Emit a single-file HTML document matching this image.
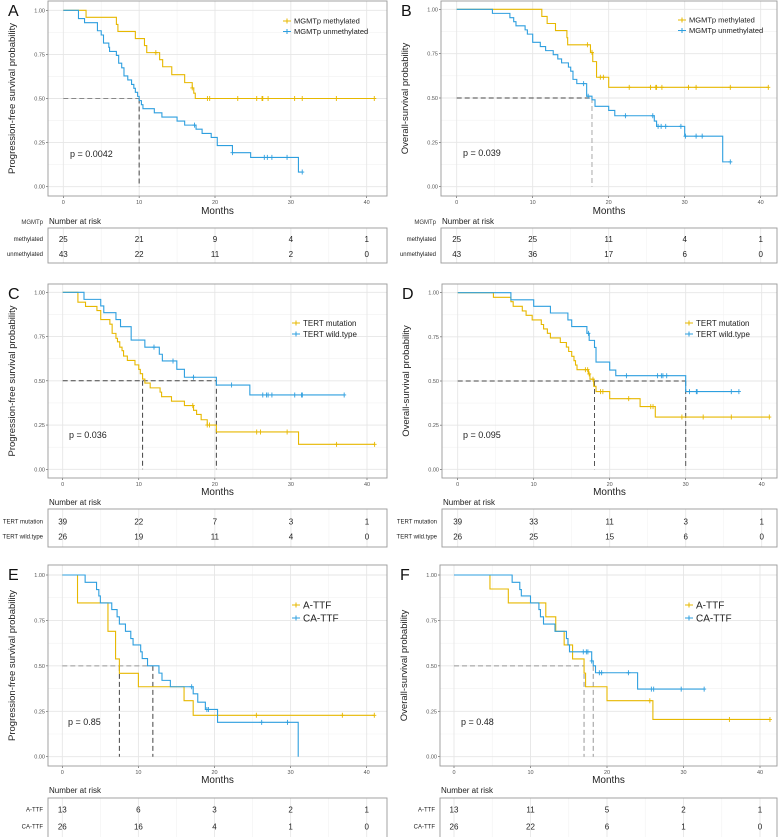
<!DOCTYPE html>
<html><head><meta charset="utf-8">
<style>
html,body{margin:0;padding:0;background:#fff;}
svg{display:block;font-family:"Liberation Sans",Arial,sans-serif;}
</style></head>
<body>
<svg id="fig" width="778" height="837" viewBox="0 0 778 837" xmlns="http://www.w3.org/2000/svg"></svg>
<script>
// ---------- DATA ----------
// Panel A: PFS by MGMTp
const A_met_t=[3,7,7.2,9.5,10.7,11,12.7,13.1,14.3,16,17,17.2,17.4];
const A_met_s=[0.96,0.92,0.88,0.84,0.80,0.76,0.72,0.68,0.635,0.59,0.56,0.53,0.50];
const A_met_c=[12.2,17,19,19.3,23,25.5,26.2,26.3,27,30.5,31.5,36,41];
const A_unm_t=[2,2.8,4.5,5,5.3,6,6.1,7,7.3,7.7,8,8.5,9,9.3,9.5,9.8,10,10.3,10.5,12,13,15,16,17.5,18.3,19.5,20.3,22.3,24.7,31];
const A_unm_s=[0.953,0.93,0.884,0.86,0.814,0.79,0.767,0.744,0.70,0.674,0.628,0.605,0.58,0.558,0.535,0.512,0.488,0.465,0.442,0.419,0.395,0.372,0.349,0.326,0.302,0.279,0.233,0.193,0.166,0.083];
const A_unm_c=[17.3,22.3,26.5,26.9,27.5,29.5,31.5];
const A_risk1=[25,21,9,4,1];
const A_risk2=[43,22,11,2,0];
// Panel B: OS by MGMTp
const B_met_t=[11.2,11.9,13,14.5,14.6,17.6,17.9,18.4,20];
const B_met_s=[0.96,0.92,0.88,0.84,0.80,0.757,0.705,0.617,0.56];
const B_met_c=[17.2,17.8,18.9,19.3,22.7,25.5,26.2,26.3,27,30.5,31.5,36,41];
const B_unm_t=[4.7,7,7.5,7.8,9,9.3,10,11,11.7,12.7,13.3,13.8,14.7,15,15.3,15.8,17.1,17.8,18.2,20,20.8,26,26.3,30,35];
const B_unm_s=[0.977,0.953,0.93,0.907,0.884,0.86,0.814,0.79,0.767,0.744,0.72,0.698,0.674,0.651,0.605,0.581,0.51,0.49,0.453,0.43,0.40,0.37,0.34,0.285,0.14];
const B_unm_c=[16.7,17.3,22.2,25.8,26.5,26.9,27.5,29.5,30.1,31.5,32.3,36];
const B_risk1=[25,25,11,4,1];
const B_risk2=[43,36,17,6,0];
// Panel C: PFS by TERT
const C_mut_t=[2,3,4.5,5,6.2,6.5,7,7.2,7.5,7.8,8,8.5,9.5,10,10.2,10.5,10.8,11.5,12.8,13,14.3,16,17.2,17.6,18.2,19,20.2,31];
const C_mut_s=[0.944,0.92,0.897,0.846,0.82,0.768,0.74,0.72,0.69,0.67,0.64,0.615,0.59,0.564,0.54,0.51,0.487,0.46,0.436,0.41,0.385,0.36,0.333,0.31,0.28,0.25,0.211,0.141];
const C_mut_c=[17.1,19,19.3,25.5,26,29.5,36,41];
const C_wt_t=[2.8,5,5.4,7,7.6,9,10.8,12.7,13.1,15,16,20.2,24.6];
const C_wt_s=[0.96,0.923,0.885,0.846,0.806,0.73,0.69,0.65,0.612,0.565,0.52,0.476,0.42];
const C_wt_c=[12,14.5,17.2,22.2,26.3,26.8,27,27.5,30.5,31.4,31.5,37];
const C_risk1=[39,22,7,3,1];
const C_risk2=[26,19,11,4,0];
// Panel D: OS by TERT
const D_mut_t=[4.7,7,7.3,8.5,9,9.8,11,11.3,11.8,12.2,13.5,14.3,14.6,15,15.3,15.5,15.7,17.2,17.4,17.9,18.2,20,24,26];
const D_mut_s=[0.974,0.949,0.923,0.897,0.872,0.846,0.82,0.795,0.77,0.744,0.718,0.692,0.667,0.64,0.615,0.59,0.564,0.54,0.51,0.47,0.44,0.40,0.355,0.296];
const D_mut_c=[16.8,17.1,17.3,17.8,18.8,19.1,22.5,25.4,25.7,29.5,32.3,36,41];
const D_wt_t=[7,10,12.2,14.5,15,17,17.3,18,18.2,20,20.8,30];
const D_wt_s=[0.96,0.923,0.885,0.846,0.808,0.77,0.73,0.69,0.607,0.562,0.53,0.44];
const D_wt_c=[17.2,22.2,26.3,26.8,27,27.5,30.5,31.4,31.5,36,37];
const D_risk1=[39,33,11,3,1];
const D_risk2=[26,25,15,6,0];
// Panel E: PFS by TTF
const E_a_t=[2,6,7,7.5,10,16,17.2];
const E_a_s=[0.846,0.69,0.538,0.459,0.385,0.308,0.228];
const E_a_c=[25.5,36.8,41];
const E_ca_t=[3,4.5,4.8,5,6.5,7.2,7.5,8.3,9,9.3,10.3,10.5,11.2,12.7,13.1,14.2,17.2,17.8,18.8,20.4,31];
const E_ca_s=[0.96,0.92,0.885,0.846,0.81,0.77,0.73,0.69,0.65,0.615,0.577,0.54,0.50,0.46,0.42,0.385,0.346,0.30,0.26,0.189,0];
const E_ca_c=[17,19,19.2,26.2,29.6];
const E_risk1=[13,6,3,2,1];
const E_risk2=[26,16,4,1,0];
// Panel F: OS by TTF
const F_a_t=[4.7,7.1,12,13.3,14.4,15.5,17,17.2,20,26];
const F_a_s=[0.923,0.846,0.77,0.69,0.615,0.538,0.46,0.385,0.308,0.205];
const F_a_c=[25.6,36,41.3];
const F_ca_t=[7.6,8.6,8.8,10,11.1,11.3,11.7,13.2,14.7,14.9,15.1,18,18.2,18.5,24];
const F_ca_s=[0.96,0.92,0.885,0.846,0.81,0.77,0.73,0.69,0.65,0.615,0.577,0.527,0.50,0.462,0.372];
const F_ca_c=[16.9,17.3,17.5,18,19,19.3,22.8,25.8,26.1,29.7,32.7];
const F_risk1=[13,11,5,2,1];
const F_risk2=[26,22,6,1,0];

const xTicks=[0,10,20,30,40];
const yTicks=[0,0.25,0.5,0.75,1];
const yTickLabels=["0.00","0.25","0.50","0.75","1.00"];

// ---------- RENDER ----------
const NS="http://www.w3.org/2000/svg";
const svg=document.getElementById('fig');
const YEL="#E7B800", BLU="#2E9FDF";
function mk(tag,attrs,parent,text){
  const e=document.createElementNS(NS,tag);
  for(const k in attrs) e.setAttribute(k,attrs[k]);
  if(text!==undefined) e.textContent=text;
  (parent||svg).appendChild(e);
  return e;
}
function stepVal(ts,ss,t){let v=1;for(let i=0;i<ts.length;i++){if(ts[i]<=t)v=ss[i];}return v;}

const panels=[
 {id:'a',L:'A',yt:'Progression-free survival probability',fl:48,fr:387,ft:1,fb:196,x0:63.3,x40:366.7,y1:10.3,y0:186.7,tt:228,tb:263,r1:239,r2:254,my:210,ny:224,
  s:[{n:'MGMTp methylated',t:A_met_t,s:A_met_s,c:A_met_c,col:YEL},{n:'MGMTp unmethylated',t:A_unm_t,s:A_unm_s,c:A_unm_c,col:BLU}],
  rl:['methylated','unmethylated'],rk:[A_risk1,A_risk2],strata:'MGMTp',lx:283,ly:21,lfs:7.5,p:'p = 0.0042',px:70,py:157,
  med:{h:10,v:[10],hc:'#888',vc:'#444'}},
 {id:'b',L:'B',yt:'Overall-survival probability',fl:441,fr:777,ft:1,fb:196,x0:456.7,x40:760.7,y1:9.3,y0:186.7,tt:228,tb:263,r1:239,r2:254,my:210,ny:224,
  s:[{n:'MGMTp methylated',t:B_met_t,s:B_met_c?B_met_s:B_met_s,c:B_met_c,col:YEL},{n:'MGMTp unmethylated',t:B_unm_t,s:B_unm_s,c:B_unm_c,col:BLU}],
  rl:['methylated','unmethylated'],rk:[B_risk1,B_risk2],strata:'MGMTp',lx:678,ly:20,lfs:7.5,p:'p = 0.039',px:463,py:156,
  med:{h:17.8,v:[17.8],hc:'#444',vc:'#aaa'}},
 {id:'c',L:'C',yt:'Progression-free survival probability',fl:48,fr:387,ft:284,fb:478,x0:62.7,x40:367,y1:292.3,y0:469.3,tt:509,tb:547,r1:521.7,r2:536.7,my:491,ny:505,
  s:[{n:'TERT mutation',t:C_mut_t,s:C_mut_s,c:C_mut_c,col:YEL},{n:'TERT wild.type',t:C_wt_t,s:C_wt_s,c:C_wt_c,col:BLU}],
  rl:['TERT mutation','TERT wild.type'],rk:[C_risk1,C_risk2],strata:'',lx:292,ly:323,lfs:8,p:'p = 0.036',px:69,py:438,
  med:{h:20.2,v:[10.5,20.2],hc:'#444',vc:'#444'}},
 {id:'d',L:'D',yt:'Overall-survival probability',fl:442,fr:777,ft:284,fb:478,x0:457.7,x40:761.7,y1:292.7,y0:469.3,tt:509,tb:547,r1:521.7,r2:536.7,my:491,ny:505,
  s:[{n:'TERT mutation',t:D_mut_t,s:D_mut_s,c:D_mut_c,col:YEL},{n:'TERT wild.type',t:D_wt_t,s:D_wt_s,c:D_wt_c,col:BLU}],
  rl:['TERT mutation','TERT wild.type'],rk:[D_risk1,D_risk2],strata:'',lx:685,ly:323,lfs:8,p:'p = 0.095',px:463,py:438,
  med:{h:30,v:[18,30],hc:'#444',vc:'#555'}},
 {id:'e',L:'E',yt:'Progression-free survival probability',fl:48,fr:387,ft:565,fb:766,x0:62.3,x40:366.7,y1:575,y0:756.7,tt:798,tb:840,r1:809.3,r2:826.7,my:779,ny:793,
  s:[{n:'A-TTF',t:E_a_t,s:E_a_s,c:E_a_c,col:YEL},{n:'CA-TTF',t:E_ca_t,s:E_ca_s,c:E_ca_c,col:BLU}],
  rl:['A-TTF','CA-TTF'],rk:[E_risk1,E_risk2],strata:'',lx:292,ly:605,lfs:10,p:'p = 0.85',px:68,py:725,
  med:{h:11.9,v:[7.5,11.9],hc:'#999',vc:'#444'}},
 {id:'f',L:'F',yt:'Overall-survival probability',fl:440,fr:777,ft:565,fb:766,x0:454,x40:760,y1:575,y0:756.7,tt:798,tb:840,r1:809.3,r2:826.7,my:779,ny:793,
  s:[{n:'A-TTF',t:F_a_t,s:F_a_s,c:F_a_c,col:YEL},{n:'CA-TTF',t:F_ca_t,s:F_ca_s,c:F_ca_c,col:BLU}],
  rl:['A-TTF','CA-TTF'],rk:[F_risk1,F_risk2],strata:'',lx:685,ly:605,lfs:10,p:'p = 0.48',px:461,py:725,
  med:{h:17,v:[17,18.2],hc:'#999',vc:'#999'}}
];

panels.forEach(P=>{
  const g=mk('g',{});
  
  
  const X=t=>P.x0+(P.x40-P.x0)*t/40;
  const Y=v=>P.y0+(P.y1-P.y0)*v;
  // panel letter
  const let_=mk('text',{x:P.fl-40,y:P.ft+15,'font-size':16,fill:'#111'},g,P.L);
  
  
  // plot bg + grid
  const plot=mk('g',{},g);
  
  
  mk('rect',{x:P.fl,y:P.ft,width:P.fr-P.fl,height:P.fb-P.ft,fill:'#fff'},plot);
  for(let m=5;m<=40;m+=10) mk('line',{x1:X(m),x2:X(m),y1:P.ft,y2:P.fb,stroke:'#f2f2f2','stroke-width':0.6},plot);
  for(let v=0.125;v<1;v+=0.25) mk('line',{x1:P.fl,x2:P.fr,y1:Y(v),y2:Y(v),stroke:'#f2f2f2','stroke-width':0.6},plot);
  xTicks.forEach(t=>mk('line',{x1:X(t),x2:X(t),y1:P.ft,y2:P.fb,stroke:'#e6e6e6','stroke-width':0.9},plot));
  yTicks.forEach(v=>mk('line',{x1:P.fl,x2:P.fr,y1:Y(v),y2:Y(v),stroke:'#e6e6e6','stroke-width':0.9},plot));
  // axes ticks/labels
  const xa=mk('g',{},g);
  
  
  xTicks.forEach(t=>{
    mk('line',{x1:X(t),x2:X(t),y1:P.fb,y2:P.fb+2,stroke:'#444','stroke-width':0.6},xa);
    mk('text',{x:X(t),y:P.fb+8,'font-size':5.5,fill:'#555','text-anchor':'middle'},xa,String(t));
  });
  const xt=mk('text',{x:(P.fl+P.fr)/2,y:P.my+4,'font-size':10,fill:'#222','text-anchor':'middle'},g,'Months');
  
  
  const ya=mk('g',{},g);
  
  
  yTicks.forEach((v,i)=>{
    mk('line',{x1:P.fl-2,x2:P.fl,y1:Y(v),y2:Y(v),stroke:'#444','stroke-width':0.6},ya);
    mk('text',{x:P.fl-3,y:Y(v)+2,'font-size':5.5,fill:'#555','text-anchor':'end'},ya,yTickLabels[i]);
  });
  const cy=(P.ft+P.fb)/2, cx=P.fl-33;
  const yt=mk('text',{x:cx,y:cy,'font-size':9.5,fill:'#222','text-anchor':'middle',transform:`rotate(-90 ${cx} ${cy})`},g,P.yt);
  
  
  // median lines
  const md=mk('g',{},g);
  
  
  mk('line',{x1:X(0),x2:X(P.med.h),y1:Y(0.5),y2:Y(0.5),stroke:P.med.hc,'stroke-width':1,'stroke-dasharray':'5 3'},md);
  P.med.v.forEach(t=>mk('line',{x1:X(t),x2:X(t),y1:Y(0.5),y2:Y(0),stroke:P.med.vc,'stroke-width':1,'stroke-dasharray':'5 3'},md));
  // curves
  P.s.forEach((S,si)=>{
    const cg=mk('g',{},g);
    
    
    let d=`M${X(0)},${Y(1)}`;
    for(let i=0;i<S.t.length;i++){d+=` H${X(S.t[i])} V${Y(S.s[i])}`;}
    const lastT=Math.max(S.t[S.t.length-1],...S.c);
    d+=` H${X(lastT)}`;
    mk('path',{d:d,fill:'none',stroke:S.col,'stroke-width':1.1},cg);
    S.c.forEach(ct=>{
      const v=stepVal(S.t,S.s,ct);
      const cx2=X(ct), cy2=Y(v);
      const cm=mk('path',{d:`M${cx2-2},${cy2} H${cx2+2} M${cx2},${cy2-2.5} V${cy2+2.5}`,stroke:S.col,'stroke-width':0.9},cg);
      
      
    });
  });
  // legend
  P.s.forEach((S,si)=>{
    const lg=mk('g',{},g);
    
    
    const ly=P.ly+si*(P.lfs+3);
    mk('path',{d:`M${P.lx},${ly} H${P.lx+8} M${P.lx+4},${ly-2.5} V${ly+2.5}`,stroke:S.col,'stroke-width':1},lg);
    mk('text',{x:P.lx+11,y:ly+P.lfs*0.35,'font-size':P.lfs,fill:'#222'},lg,S.n);
  });
  // p-value
  const pv=mk('text',{x:P.px,y:P.py,'font-size':9,fill:'#222'},g,P.p);
  
  
  // frame
  mk('rect',{x:P.fl,y:P.ft,width:P.fr-P.fl,height:P.fb-P.ft,fill:'none',stroke:'#999','stroke-width':0.9},g);
  // risk table
  const rt=mk('g',{},g);
  
  
  mk('text',{x:P.fl+1,y:P.ny,'font-size':8,fill:'#222'},rt,'Number at risk');
  if(P.strata) mk('text',{x:P.fl-5,y:P.ny,'font-size':6,fill:'#333','text-anchor':'end'},rt,P.strata);
  mk('rect',{x:P.fl,y:P.tt,width:P.fr-P.fl,height:P.tb-P.tt,fill:'#fff'},rt);
  for(let m=5;m<=40;m+=10) mk('line',{x1:X(m),x2:X(m),y1:P.tt,y2:P.tb,stroke:'#f2f2f2','stroke-width':0.6},rt);
  xTicks.forEach(t=>mk('line',{x1:X(t),x2:X(t),y1:P.tt,y2:P.tb,stroke:'#e8e8e8','stroke-width':0.9},rt));
  mk('rect',{x:P.fl,y:P.tt,width:P.fr-P.fl,height:P.tb-P.tt,fill:'none',stroke:'#999','stroke-width':0.9},rt);
  [P.r1,P.r2].forEach((ry,ri)=>{
    mk('text',{x:P.fl-5,y:ry+2,'font-size':6,fill:'#222','text-anchor':'end'},rt,P.rl[ri]);
    P.rk[ri].forEach((val,k)=>mk('text',{x:X(xTicks[k]),y:ry+3,'font-size':8,fill:'#222','text-anchor':'middle'},rt,String(val)));
  });
});
</script>
</body></html>
